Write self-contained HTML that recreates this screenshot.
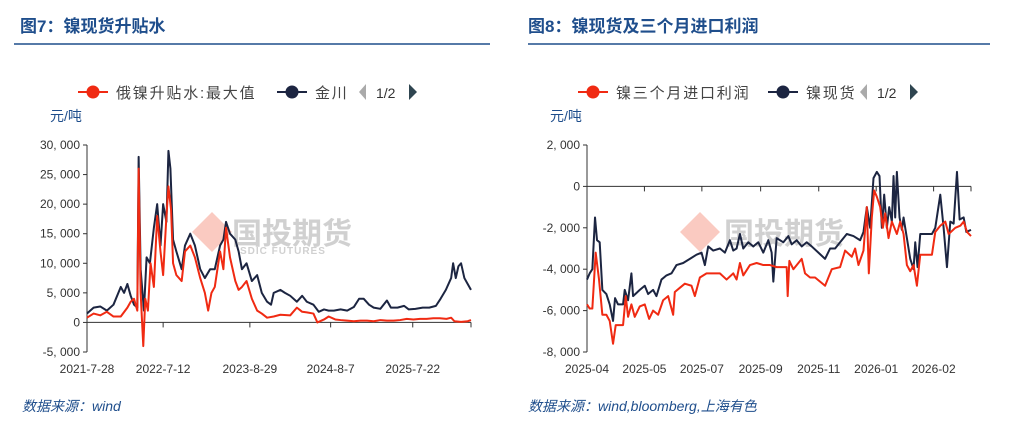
<!DOCTYPE html>
<html><head><meta charset="utf-8"><style>
body{margin:0;width:1025px;height:428px;background:#fff;font-family:"Liberation Sans","Noto Sans CJK SC",sans-serif;overflow:hidden}
svg{position:absolute;left:0;top:0}
</style></head><body>
<svg width="1025" height="428" id="svg" font-family="Liberation Sans, Noto Sans CJK SC, sans-serif">
<text x="20" y="32" font-size="17" font-weight="bold" fill="#1f4e8c">图7：镍现货升贴水</text>
<line x1="14" y1="44" x2="490" y2="44" stroke="#1f4e8c" stroke-width="1.5"/>
<text x="528" y="32" font-size="17" font-weight="bold" fill="#1f4e8c">图8：镍现货及三个月进口利润</text>
<line x1="528" y1="44" x2="990" y2="44" stroke="#1f4e8c" stroke-width="1.5"/>
<text x="22" y="411" font-size="14" font-style="italic" fill="#1f4e8c">数据来源：wind</text>
<text x="528" y="411" font-size="14" font-style="italic" fill="#1f4e8c">数据来源：wind,bloomberg,上海有色</text>
<g opacity="0.55">
<polygon points="212,212 232,232 212,252 192,232" fill="#f6a090"/>
<text x="232" y="244" font-size="30" font-weight="bold" fill="#aaa">国投期货</text>
<text x="240" y="254" font-size="10" font-weight="bold" fill="#aaa" letter-spacing="1">SDIC FUTURES</text>
</g>
<g opacity="0.55">
<polygon points="700,212 720,232 700,252 680,232" fill="#f6a090"/>
<text x="724" y="244" font-size="30" font-weight="bold" fill="#aaa">国投期货</text>
</g>
<g id="L"></g><g id="R"></g>
</svg>
<script>
const leftBlackT=[0,1,2,3,4,5.1,5.6,6.1,6.6,7.1,7.6,7.8,8.1,8.6,9,9.5,10.1,10.6,11.1,11.5,12,12.3,12.6,13,13.5,14.3,14.8,15.6,16.3,17.1,17.8,18.6,19.3,20.1,20.6,21,21.6,22.4,22.9,23.4,24.1,24.9,25.7,26.4,27.2,27.8,28.2,29.2,29.9,30.7,31.7,32.5,33.2,34.2,35,35.8,36.5,37.3,38.3,39.3,40.3,41.1,41.8,42.6,43.3,44.3,45.3,45.9,46.9,47.9,48.6,49.6,50.7,51.7,52.7,53.4,54.2,55,55.3,55.7,56.1,56.5,57,57.5,58];
const leftBlack=[1500,2500,2700,2000,3000,6000,5000,6500,4500,3000,2500,28000,9000,2000,11000,10000,16000,20000,13000,20000,17000,29000,26000,14000,12000,9000,13000,15000,13000,9000,7500,9000,9000,13000,14000,17000,15000,14000,12000,9000,10000,7000,8000,5000,3500,3000,5000,5500,5000,4500,3500,4500,3500,3000,1800,2200,2000,2000,2200,2000,2600,4000,4000,3000,2500,2300,3700,2500,2500,2800,2200,2300,2500,2500,2800,4000,5500,7500,10000,7500,9500,10000,7500,6500,5500];
const leftRedT=[0,1,2,3,4,5.1,6.1,6.6,7.1,7.6,7.8,8.1,8.5,8.8,9.2,9.6,10.1,10.6,11.1,11.5,12,12.3,12.7,13,13.5,14.3,14.8,15.6,16.3,17.1,17.8,18.3,18.8,19.3,20.1,20.6,21,21.6,22.4,22.9,23.4,24.1,24.9,25.7,26.4,27.2,28.2,29.2,30.7,31.7,32.5,33.2,34.2,34.8,35.8,36.5,37.5,38.3,39.3,40.3,41.3,42.3,43.3,44.3,45.3,46.3,47.3,48.3,49.3,50.3,51.3,52.3,53.3,54.3,55,55.5,56.5,57.5,58];
const leftRed=[800,1500,1200,1800,1000,1000,2500,3500,4000,2000,26000,5000,-4000,4000,2000,10000,6000,18000,12000,8000,18000,23000,19000,10000,8000,7000,12000,13000,11000,7500,5000,2000,5000,6000,12000,9000,16000,11000,7000,5500,6000,7000,4000,2000,1500,800,1000,1300,1200,2500,1800,1700,1500,0,500,1000,500,400,300,200,300,300,200,400,300,300,400,600,500,600,600,700,700,600,800,200,100,200,400];
const leftTicks=["2021-7-28","2022-7-12","2023-8-29","2024-8-7","2025-7-22"];
const leftTickT=[0,11.5,24.6,36.8,49.2];
const leftY=[30000,25000,20000,15000,10000,5000,0,-5000];
const rightBlackT=[0,1.6,3.2,4.8,6,7.6,9.2,11.6,13.6,15.6,16.8,18.6,21.6,22.6,24.6,26.6,27.6,31.6,34.6,36.6,39.6,41.6,44.6,47.6,50.6,53.6,57.6,61.6,65.6,68.6,70.6,72.6,75.6,79.6,82.6,85.6,87.6,89.6,91.6,93.6,96.6,99.6,102.6,105.6,108.6,110.6,111.6,113.6,117.6,120.6,122.6,125.6,128.6,131.6,134.6,138.6,142.6,145.6,148.6,151.6,155.6,159.6,163.6,165.6,167.6,169.6,171.6,173.6,175.2,176.6,178,179.6,181,182.6,183.6,184.6,185.6,187.2,188.6,189.6,191.6,193.6,195.6,196.6,198,199.6,206.6,208.6,211.6,213.6,215.6,217.6,219.6,221.6,223.2,225.6,227.2,230];
const rightBlack=[-4500,-4200,-4000,-1500,-2600,-2700,-5000,-5200,-5700,-6500,-5400,-5700,-5700,-5000,-5500,-4200,-5300,-5000,-4800,-5200,-5000,-5300,-4500,-4300,-4200,-3800,-3700,-3500,-3300,-3200,-3800,-2900,-3100,-3000,-3200,-2600,-3100,-3000,-2300,-3000,-2700,-2900,-2700,-3200,-2600,-3200,-4600,-2500,-2700,-2400,-2800,-2600,-2900,-2700,-2900,-3200,-3500,-3000,-3000,-2700,-2300,-2400,-2600,-2200,-1000,-2000,400,700,500,-2000,-400,-2000,-1000,-1700,500,-1500,700,-1500,-2100,-1500,-2500,-3500,-4000,-2700,-3900,-2300,-2300,-2000,-400,-2000,-3900,-1700,-1800,700,-1600,-1500,-2200,-2100];
const rightRedT=[0,1.6,3.2,5.2,7.2,9.2,11.6,13.6,15.6,17.2,21.6,23.2,24.6,26.6,28.6,31.6,34.6,37.2,39.6,42.6,45.6,48.6,51.6,52.6,55.6,58.6,62.6,64.6,67.6,71.6,75.6,79.6,83.6,87.6,89.6,91.6,93.6,97.6,101.6,105.6,109.6,113.6,119.6,120.2,121.2,123.6,128.6,130.6,133.6,136.6,142.6,146.6,151.6,154.6,158.6,160.6,162.6,165.6,167.6,168.8,170.6,172,173.6,175.6,177.2,178.6,180.6,182.6,185.6,187.6,189.6,191.6,193.6,195.6,197.6,199.6,206.6,208.6,211.6,214.6,216.6,220.6,223.6,225.6,227.6,230];
const rightRed=[-5700,-5900,-5900,-3200,-4500,-6200,-6200,-6500,-7600,-6700,-6700,-5300,-6300,-5700,-6300,-5800,-5700,-6400,-6000,-6200,-5500,-5300,-6200,-5100,-4900,-4700,-4800,-5300,-4400,-4200,-4200,-4200,-4500,-4200,-4500,-3700,-4300,-3800,-3700,-3800,-3800,-3900,-3900,-5300,-3600,-4000,-3500,-4200,-4400,-4400,-4800,-4000,-3900,-3100,-3400,-3000,-3800,-3100,-1000,-4200,-1500,-200,-500,-1000,-2000,-1300,-2500,-1700,-2300,-1700,-2300,-3800,-4100,-3800,-4800,-3300,-3300,-2200,-1900,-1700,-2300,-2000,-1900,-1700,-2200,-2400];
const rightTicks=["2025-04","2025-05","2025-07","2025-09","2025-11","2026-01","2026-02"];
const rightTickT=[0,34.4,68.8,104,138.8,173.2,207.6];
const rightY=[2000,0,-2000,-4000,-6000,-8000];
const NS="http://www.w3.org/2000/svg";
function mk(p,t,a){const e=document.createElementNS(NS,t);for(const k in a)e.setAttribute(k,a[k]);p.appendChild(e);return e;}
function chart(g,o){
  const y=v=>o.y0+(o.ymax-v)/(o.ymax-o.ymin)*(o.y1-o.y0);
  const x=t=>o.x0+t/o.tmax*(o.x1-o.x0);
  let l=mk(g,'line',{x1:o.lx,y1:92,x2:o.lx+30,y2:92,stroke:'#f02a12','stroke-width':2});
  
  let c=mk(g,'circle',{cx:o.lx+15,cy:92,r:6.5,fill:'#f02a12'});
  
  let t=mk(g,'text',{x:o.lx+38,y:98,'font-size':15,fill:'#444','letter-spacing':1.8});t.textContent=o.n1;
  
  l=mk(g,'line',{x1:o.lx2,y1:92,x2:o.lx2+30,y2:92,stroke:'#1c2541','stroke-width':2});
  
  c=mk(g,'circle',{cx:o.lx2+15,cy:92,r:6.5,fill:'#1c2541'});
  
  t=mk(g,'text',{x:o.lx2+38,y:98,'font-size':15,fill:'#444','letter-spacing':1.8});t.textContent=o.n2;
  
  let p=mk(g,'polygon',{points:`${o.px+7},84 ${o.px},92 ${o.px+7},100`,fill:'#aaa'});
  
  t=mk(g,'text',{x:o.px+17,y:98,'font-size':14,fill:'#333'});t.textContent='1/2';
  
  p=mk(g,'polygon',{points:`${o.px+50},84 ${o.px+58},92 ${o.px+50},100`,fill:'#2f4550'});
  
  t=mk(g,'text',{x:o.x0-37,y:121,'font-size':14,fill:'#1f4e8c'});t.textContent='元/吨';
  
  l=mk(g,'line',{x1:o.x0,y1:o.y0,x2:o.x0,y2:o.y1,stroke:'#333'});
  
  o.yt.forEach(v=>{
    mk(g,'line',{x1:o.x0-4,y1:y(v),x2:o.x0,y2:y(v),stroke:'#333'});
    const tt=mk(g,'text',{x:o.x0-7,y:y(v)+4,'font-size':12,fill:'#333','text-anchor':'end'});
    tt.textContent=v.toLocaleString('en-US').replace(/,/g,', ');
    
  });
  l=mk(g,'line',{x1:o.x0,y1:y(0),x2:o.x1,y2:y(0),stroke:'#333'});
  
  o.xt.forEach((s,i)=>{
    const xx=x(o.xtt[i]);
    mk(g,'line',{x1:xx,y1:y(0),x2:xx,y2:y(0)+5,stroke:'#333'});
    const tt=mk(g,'text',{x:xx,y:o.y1+21,'font-size':12,fill:'#333','text-anchor':'middle'});
    tt.textContent=s;
  });
  mk(g,'line',{x1:o.x1,y1:y(0),x2:o.x1,y2:y(0)+5,stroke:'#333'});
  [[o.bt,o.b,'#1c2541','series-navy'],[o.rt,o.r,'#f02a12','series-red']].forEach(([tt,d,col,nm])=>{
    const pl=mk(g,'polyline',{points:d.map((v,i)=>x(tt[i])+','+y(v)).join(' '),fill:'none',stroke:col,'stroke-width':2,'stroke-linejoin':'round'});
    
  });
}
chart(document.getElementById('L'),{x0:87,x1:471,y0:145,y1:352,ymax:30000,ymin:-5000,tmax:58,yt:leftY,xt:leftTicks,xtt:leftTickT,bt:leftBlackT,b:leftBlack,rt:leftRedT,r:leftRed,n1:'俄镍升贴水:最大值',n2:'金川',lx:78,lx2:277,px:359});
chart(document.getElementById('R'),{x0:587,x1:971,y0:145,y1:352,ymax:2000,ymin:-8000,tmax:230,yt:rightY,xt:rightTicks,xtt:rightTickT,bt:rightBlackT,b:rightBlack,rt:rightRedT,r:rightRed,n1:'镍三个月进口利润',n2:'镍现货',lx:578,lx2:768,px:860});
</script>
</body></html>
